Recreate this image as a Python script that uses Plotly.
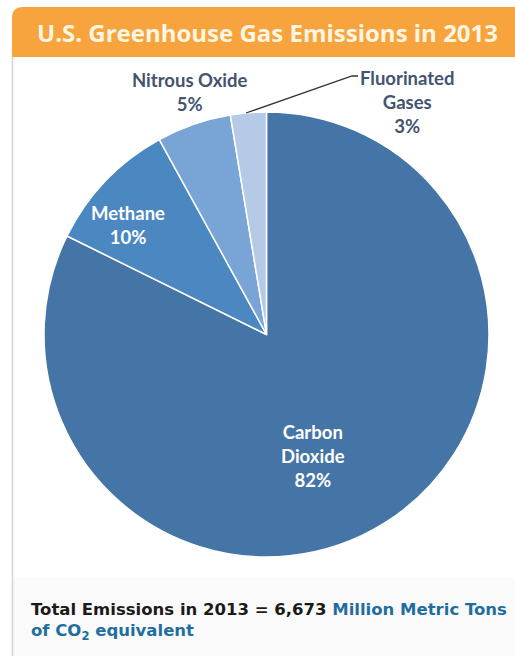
import plotly.graph_objects as go

W, H = 515, 656

# ---- data ----
gases = ["Carbon Dioxide", "Methane", "Nitrous Oxide", "Fluorinated Gases"]
label_lines = ["Carbon<br>Dioxide", "Methane", "Nitrous Oxide", "Fluorinated<br>Gases"]
shares = [82.3, 9.7, 5.4, 2.6]
colors = ["#4575A6", "#4B87C1", "#79A5D6", "#B5CAE7"]
title_text = "U.S. Greenhouse Gas Emissions in 2013"
total_value = "6,673"

def px(x):
    return x / W

def py(y):
    return 1 - y / H

fig = go.Figure()
fig.add_trace(go.Pie(
    labels=gases,
    values=shares,
    sort=False,
    direction="clockwise",
    rotation=0,
    marker=dict(colors=colors, line=dict(color="white", width=1.5)),
    textinfo="none",
    hoverinfo="label+percent",
    showlegend=False,
    domain=dict(x=[px(44), px(489)], y=[py(557), py(112)]),
))

total = sum(shares)
pcts = [f"{round(v / total * 100)}%" for v in shares]

# label positions (pixel centers) and colours
label_pos = [(313, 456), (128, 225), (190, 92), (407, 102)]
label_col = ["white", "white", "#44546F", "#44546F"]
annotations = []
for lab, pc, (x, y), c in zip(label_lines, pcts, label_pos, label_col):
    annotations.append(dict(
        x=px(x), y=py(y), xref="paper", yref="paper",
        text=f"<b>{lab}<br>{pc}</b>", showarrow=False,
        font=dict(family="Lato", size=18.5, color=c),
        xanchor="center", yanchor="middle", align="center",
    ))

# title
annotations.append(dict(
    x=px(267), y=py(33), xref="paper", yref="paper",
    text=f"<b>{title_text}</b>", showarrow=False,
    font=dict(family="Open Sans", size=24, color="#FFF6E2"),
    xanchor="center", yanchor="middle",
))

# footer
annotations.append(dict(
    x=px(29), y=py(621), xref="paper", yref="paper",
    text=(f"<b>Total Emissions in 2013 = {total_value} "
          "<span style='color:#1F6E9E'>Million Metric Tons</span><br>"
          "<span style='color:#1F6E9E'>of CO<sub>2</sub> equivalent</span></b>"),
    showarrow=False, align="left",
    font=dict(family="DejaVu Sans", size=16.5, color="#1A1A1A"),
    xanchor="left", yanchor="middle",
))

shapes = [
    # footer panel
    dict(type="rect", xref="paper", yref="paper", x0=px(13), x1=1, y0=0, y1=py(578),
         fillcolor="#FAFAFA", line=dict(width=0), layer="below"),
    # left border
    dict(type="line", xref="paper", yref="paper", x0=px(12.5), x1=px(12.5), y0=0, y1=py(57),
         line=dict(color="#D4D4D4", width=1.5)),
    # header bar with rounded top-left corner
    dict(type="path", xref="paper", yref="paper",
         path=(f"M {px(12)} {py(57)} L {px(12)} {py(18)} Q {px(12)} {py(7)} {px(23)} {py(7)} "
               f"L 1 {py(7)} L 1 {py(57)} Z"),
         fillcolor="#F7A43E", line=dict(width=0), layer="below"),
    # leader line for Fluorinated Gases
    dict(type="path", xref="paper", yref="paper",
         path=f"M {px(246)} {py(113)} L {px(352)} {py(76)} L {px(358)} {py(76)}",
         line=dict(color="#333333", width=1.3)),
]

fig.update_layout(
    width=W, height=H,
    margin=dict(l=0, r=0, t=0, b=0),
    paper_bgcolor="white", plot_bgcolor="white",
    annotations=annotations, shapes=shapes,
)

fig.write_html("out.html")
